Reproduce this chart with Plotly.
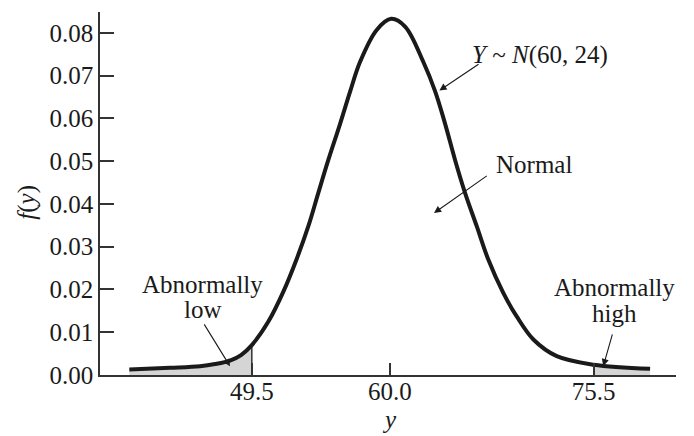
import plotly.graph_objects as go

# Curve values
y_vals = [40.18, 43.28, 45.56, 46.70, 47.84, 48.68, 49.5, 50.76, 51.90, 52.92, 53.80, 54.56,
          55.32, 56.21, 56.97, 57.73, 59.00, 60.10, 61.16, 62.55, 63.44, 64.20, 64.96, 65.72,
          66.61, 67.49, 68.63, 69.65, 70.92, 72.70, 75.5, 79.80]
f_vals = [0.00128, 0.00168, 0.00206, 0.00257, 0.00339, 0.00467, 0.0070, 0.0125, 0.0195, 0.0272,
          0.0348, 0.0426, 0.0503, 0.0587, 0.0662, 0.0732, 0.0807, 0.0833, 0.0815, 0.0732,
          0.0664, 0.0588, 0.0503, 0.0426, 0.0348, 0.0270, 0.0192, 0.0137, 0.0083, 0.0044,
          0.0024, 0.00145]

low_cut = 49.5
high_cut = 75.5

x_tick_vals = [49.5, 60.0, 75.5]
x_tick_text = ["49.5", "60.0", "75.5"]
y_tick_vals = [0.00, 0.01, 0.02, 0.03, 0.04, 0.05, 0.06, 0.07, 0.08]
y_tick_text = ["0.00", "0.01", "0.02", "0.03", "0.04", "0.05", "0.06", "0.07", "0.08"]

FONT = "Liberation Serif"
FS = 25
INK = "#1a1a1a"
AX = "#333333"
FILL = "#d5d5d5"

low_x = [x for x in y_vals if x <= low_cut]
low_f = [f for x, f in zip(y_vals, f_vals) if x <= low_cut]
high_x = [x for x in y_vals if x >= high_cut]
high_f = [f for x, f in zip(y_vals, f_vals) if x >= high_cut]
f_low_cut = f_vals[y_vals.index(low_cut)]

fig = go.Figure()
fig.add_trace(go.Scatter(x=low_x, y=low_f, mode="lines", fill="tozeroy", fillcolor=FILL,
                         line=dict(width=0, shape="spline"), hoverinfo="skip"))
fig.add_trace(go.Scatter(x=high_x, y=high_f, mode="lines", fill="tozeroy", fillcolor=FILL,
                         line=dict(width=0, shape="spline"), hoverinfo="skip"))
fig.add_trace(go.Scatter(x=[low_cut, low_cut], y=[0, f_low_cut], mode="lines",
                         line=dict(color=AX, width=1.5), hoverinfo="skip"))
fig.add_trace(go.Scatter(x=y_vals, y=f_vals, mode="lines",
                         line=dict(color=INK, width=4, shape="spline", smoothing=1.0)))

annots = []
def arrow(tip_x, tip_y, tail_x, tail_y):
    annots.append(dict(x=tip_x, y=tip_y, ax=tail_x, ay=tail_y, xref="x", yref="y",
                       axref="x", ayref="y", text="", showarrow=True, arrowhead=2,
                       arrowsize=1.3, arrowwidth=1.1, arrowcolor=INK, standoff=0))
def label(x, y, text):
    annots.append(dict(x=x, y=y, xref="x", yref="y", text=text, showarrow=False,
                       xanchor="center", yanchor="middle",
                       font=dict(family=FONT, size=FS, color=INK)))

arrow(63.77, 0.06653, 66.86, 0.07293)
arrow(63.36, 0.03789, 67.49, 0.04683)
arrow(47.84, 0.00206, 45.81, 0.01219)
arrow(76.24, 0.00206, 76.96, 0.00986)

label(71.43, 0.0749, "<i>Y</i> ~ <i>N</i>(60, 24)")
label(70.97, 0.0492, "Normal")
label(45.75, 0.0211, "Abnormally")
label(45.75, 0.0153, "low")
label(77.08, 0.0204, "Abnormally")
label(77.08, 0.0145, "high")

annots.append(dict(x=60.0, y=-0.1224, xref="x", yref="paper", text="<i>y</i>",
                   showarrow=False, xanchor="center", yanchor="middle",
                   font=dict(family=FONT, size=FS, color=INK)))
annots.append(dict(x=-0.1267, y=0.4746, xref="paper", yref="paper", text="<i>f</i>(<i>y</i>)",
                   showarrow=False, xanchor="center", yanchor="middle", textangle=-90,
                   font=dict(family=FONT, size=FS, color=INK)))

fig.update_layout(
    width=686, height=428,
    margin=dict(l=92, r=18, t=4, b=60.5),
    paper_bgcolor="white", plot_bgcolor="white",
    showlegend=False,
    annotations=annots,
    font=dict(family=FONT, size=FS, color=INK),
)
fig.update_xaxes(range=[37.95, 81.77], showline=True, linecolor=AX, linewidth=1.5,
                 ticks="inside", ticklen=12, tickwidth=1.5, tickcolor=AX,
                 tickvals=x_tick_vals, ticktext=x_tick_text, showgrid=False, zeroline=False,
                 ticklabelstandoff=-7,
                 tickfont=dict(family=FONT, size=FS, color=INK))
fig.update_yaxes(range=[0, 0.0849], showline=True, linecolor=AX, linewidth=1.5,
                 ticks="inside", ticklen=14, tickwidth=1.5, tickcolor=AX,
                 tickvals=y_tick_vals, ticktext=y_tick_text, showgrid=False, zeroline=False,
                 tickfont=dict(family=FONT, size=FS, color=INK))

fig.write_html("out.html")
